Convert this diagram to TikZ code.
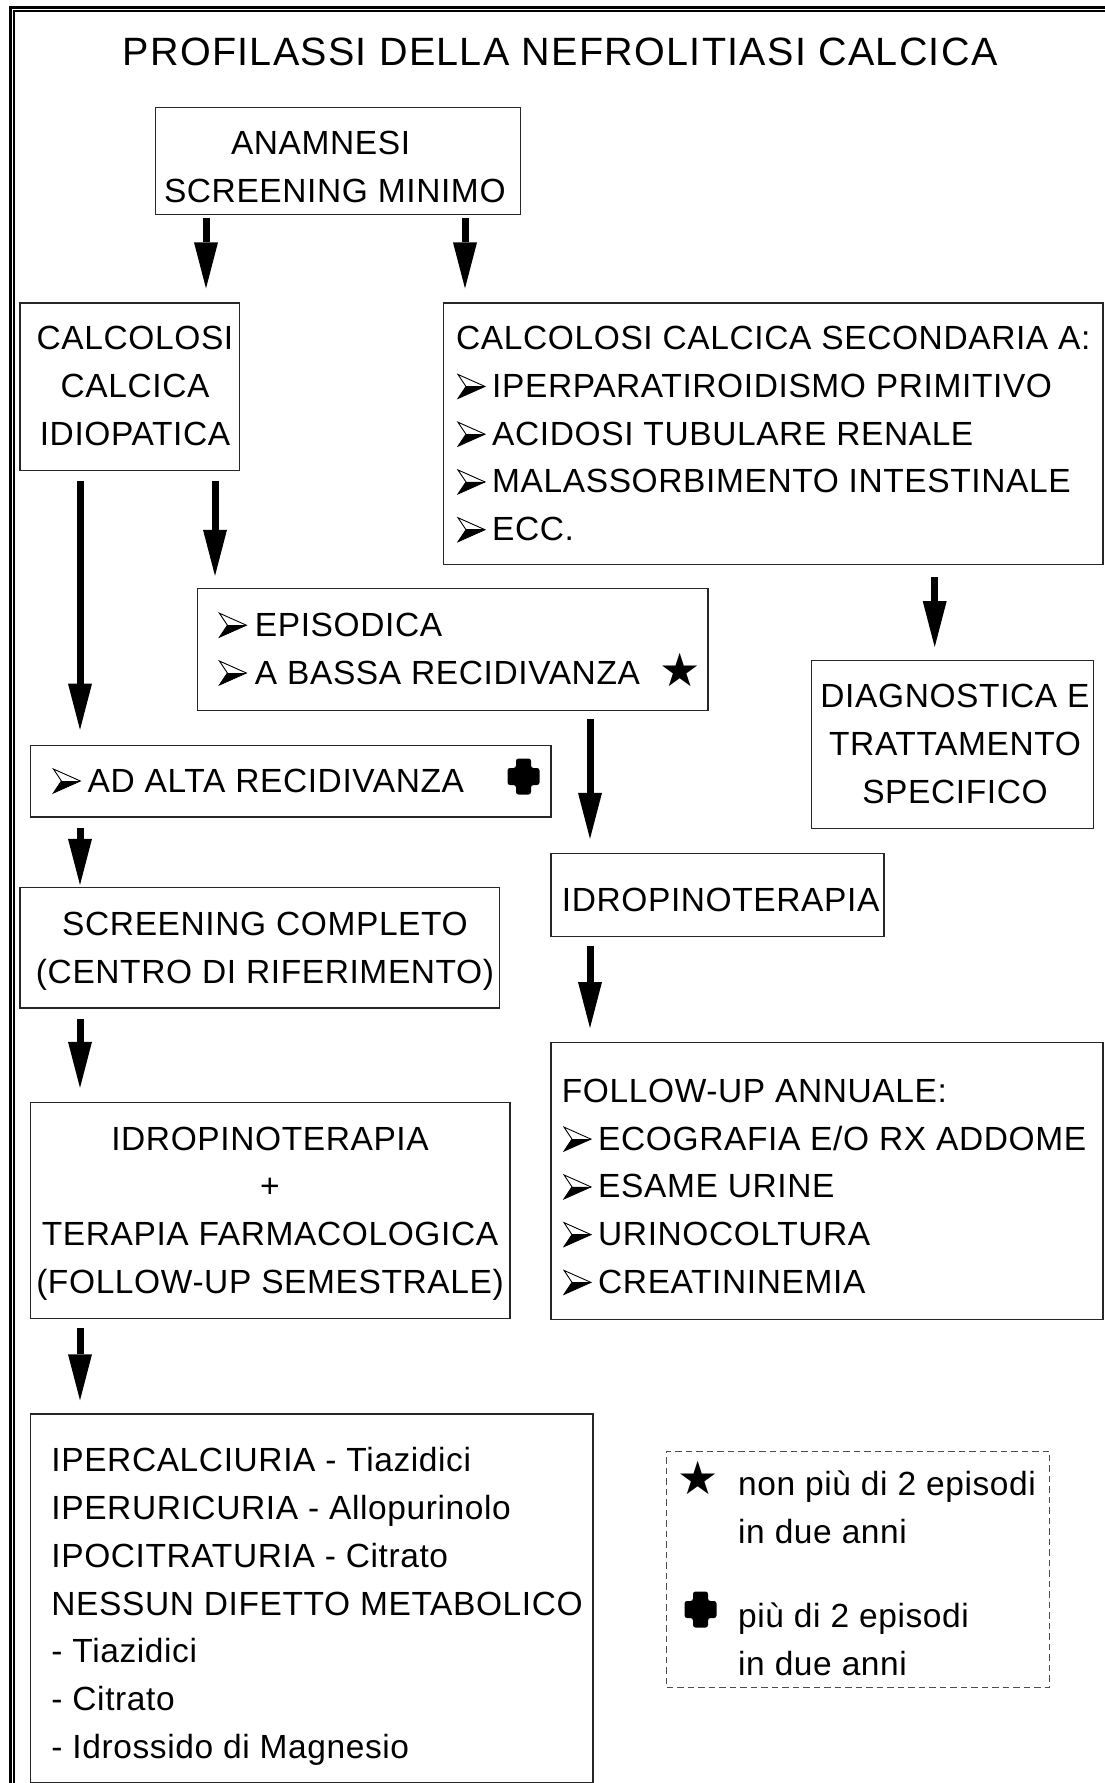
\documentclass[tikz,border=0pt]{standalone}
\usepackage{fontspec}
\setmainfont{Liberation Sans}[LetterSpace=1.8]
\newfontfamily\symfont{DejaVu Sans}
\usetikzlibrary{arrows.meta,calc}

\newcommand\bodysize{\fontsize{33.5}{47.75}\selectfont}
\newcommand\titlesize{\fontsize{39.5}{48}\selectfont\addfontfeature{LetterSpace=3.3}}
\newcommand\starsym{{\symfont\fontsize{46}{46}\selectfont ★}}

% framed box given by its two corners
\newcommand\boxnode[5]{%
  \node[box, anchor=north west, minimum width={#4-#2}, minimum height={#5-#3}] (#1) at (#2,#3) {};}

\begin{document}
\begin{tikzpicture}[x=1pt, y=-1pt,
  box/.style={draw=black!85, line width=1.3pt, inner sep=0pt},
  txt/.style={inner sep=0pt, font=\bodysize},
  arr/.style={line width=7pt, -{Triangle[length=46pt,width=24pt,line width=0pt]}},
  legbox/.style={draw=black!70, line width=1pt, dash pattern=on 6.5pt off 4pt, inner sep=0pt},
  % 3-D arrowhead bullet, origin at its left end on the baseline
  arrowbullet/.pic={
    \fill[black] (0,1) -- (8,-11) -- (27,-11) -- cycle;
    \draw[line width=0.9pt, line join=miter] (0,-23) -- (27,-11) -- (0,1) -- (8,-11) -- cycle;
    \draw[line width=0.6pt] (8,-11) -- (27,-11);
  },
  % heavy rounded cross, origin at its centre
  heavycross/.pic={
    \fill[black, rounded corners=2.5pt]
      (-7.5,-18) -- (7.5,-18) -- (7.5,-8.5) -- (16,-8.5) -- (16,8.5) -- (7.5,8.5)
      -- (7.5,18) -- (-7.5,18) -- (-7.5,8.5) -- (-16,8.5) -- (-16,-8.5) -- (-7.5,-8.5) -- cycle;
  }]

\useasboundingbox (0,0) rectangle (1104,1783);
\fill[white] (0,0) rectangle (1104,1783);

% double page frame (open at right and bottom)
\draw[line width=2.6pt] (10.3,1795) -- (10.3,7.2) -- (1115,7.2);
\draw[line width=1.8pt] (14.3,1795) -- (14.3,11.2) -- (1115,11.2);

% title
\node[anchor=base, inner sep=0pt, font=\titlesize] (title) at (560,65) {PROFILASSI DELLA NEFROLITIASI CALCICA};

% boxes
\boxnode{anam}{155}{107}{520}{214}
\boxnode{idio}{19.3}{302.4}{238.8}{469.6}
\boxnode{sec}{443}{302.4}{1102.3}{564}
\boxnode{epis}{196.7}{587.8}{707.2}{709.5}
\boxnode{alta}{29.6}{744.7}{550.3}{816.4}
\boxnode{diag}{810.7}{660}{1092.5}{828}
\boxnode{idro}{550.3}{852.8}{883.4}{935.8}
\boxnode{screen}{19.3}{886.9}{499.1}{1007.4}
\boxnode{follow}{550.3}{1041.5}{1102.3}{1318.9}
\boxnode{terapia}{29.6}{1101.8}{509.4}{1317.8}
\boxnode{bottom}{29.6}{1413.3}{592.4}{1782}
\node[legbox, anchor=north west, minimum width=383, minimum height=236] (legend) at (666,1450.5) {};

% texts
\node[txt, anchor=base] (anam-1) at (320.6,154) {ANAMNESI};
\node[txt, anchor=base] (anam-2) at (334.8,202) {SCREENING MINIMO};

\node[txt, anchor=base] (idio-1) at (135,349.7) {CALCOLOSI};
\node[txt, anchor=base] (idio-2) at (135,397.45) {CALCICA};
\node[txt, anchor=base] (idio-3) at (135,445.2) {IDIOPATICA};

\node[txt, anchor=base west] (sec-1) at (456,349.7) {CALCOLOSI CALCICA SECONDARIA A:};
\node[txt, anchor=base west] (sec-2) at (492,397.45) {IPERPARATIROIDISMO PRIMITIVO};
\node[txt, anchor=base west] (sec-3) at (492,445.2) {ACIDOSI TUBULARE RENALE};
\node[txt, anchor=base west] (sec-4) at (492,492.95) {MALASSORBIMENTO INTESTINALE};
\node[txt, anchor=base west] (sec-5) at (492,540.7) {ECC.};
\foreach \yy in {397.45,445.2,492.95,540.7} \pic at (458,\yy) {arrowbullet};

\node[txt, anchor=base west] (epis-1) at (254.7,636.2) {EPISODICA};
\node[txt, anchor=base west] (epis-2) at (254.7,684) {A BASSA RECIDIVANZA};
\foreach \yy in {636.2,684} \pic at (219.4,\yy) {arrowbullet};
\node[inner sep=0pt] (epis-star) at (680,670) {\starsym};

\node[txt, anchor=base west] (alta-1) at (87.5,792) {AD ALTA RECIDIVANZA};
\pic at (53.4,792) {arrowbullet};
\pic at (523.5,776.5) {heavycross};

\node[txt, anchor=base] (diag-1) at (955,707.8) {DIAGNOSTICA E};
\node[txt, anchor=base] (diag-2) at (955,755.6) {TRATTAMENTO};
\node[txt, anchor=base] (diag-3) at (955,803.3) {SPECIFICO};

\node[txt, anchor=base west] (idro-1) at (561.7,911.4) {IDROPINOTERAPIA};

\node[txt, anchor=base] (screen-1) at (265,935.2) {SCREENING COMPLETO};
\node[txt, anchor=base] (screen-2) at (265,983) {(CENTRO DI RIFERIMENTO)};

\node[txt, anchor=base west] (follow-1) at (561.7,1102.4) {FOLLOW-UP ANNUALE:};
\node[txt, anchor=base west] (follow-2) at (598,1150.1) {ECOGRAFIA E/O RX ADDOME};
\node[txt, anchor=base west] (follow-3) at (598,1197.9) {ESAME URINE};
\node[txt, anchor=base west] (follow-4) at (598,1245.6) {URINOCOLTURA};
\node[txt, anchor=base west] (follow-5) at (598,1293.4) {CREATININEMIA};
\foreach \yy in {1150.1,1197.9,1245.6,1293.4} \pic at (564,\yy) {arrowbullet};

\node[txt, anchor=base] (terapia-1) at (270,1150.1) {IDROPINOTERAPIA};
\node[txt, anchor=base] (terapia-2) at (270,1197.9) {+};
\node[txt, anchor=base] (terapia-3) at (270,1245.6) {TERAPIA FARMACOLOGICA};
\node[txt, anchor=base] (terapia-4) at (270,1293.4) {(FOLLOW-UP SEMESTRALE)};

\node[txt, anchor=base west] (bottom-1) at (51.2,1471.9) {IPERCALCIURIA - Tiazidici};
\node[txt, anchor=base west] (bottom-2) at (51.2,1519.7) {IPERURICURIA - Allopurinolo};
\node[txt, anchor=base west] (bottom-3) at (51.2,1567.4) {IPOCITRATURIA - Citrato};
\node[txt, anchor=base west] (bottom-4) at (51.2,1615.2) {NESSUN DIFETTO METABOLICO};
\node[txt, anchor=base west] (bottom-5) at (51.2,1662.9) {- Tiazidici};
\node[txt, anchor=base west] (bottom-6) at (51.2,1710.7) {- Citrato};
\node[txt, anchor=base west] (bottom-7) at (51.2,1758.4) {- Idrossido di Magnesio};

% legend
\node[inner sep=0pt] (leg-star) at (698,1478) {\starsym};
\node[txt, anchor=base west] (leg-1) at (738,1495) {non più di 2 episodi};
\node[txt, anchor=base west] (leg-2) at (738,1543.3) {in due anni};
\pic at (700.5,1609.5) {heavycross};
\node[txt, anchor=base west] (leg-3) at (738,1627) {più di 2 episodi};
\node[txt, anchor=base west] (leg-4) at (738,1675) {in due anni};

% arrow columns
\coordinate (c1) at (80,0);
\coordinate (c2) at (206,0);
\coordinate (c3) at (215,0);
\coordinate (c4) at (465,0);
\coordinate (c5) at (590,0);
\coordinate (c6) at (934.7,0);

% arrows
\draw[arr, shorten <=3pt, shorten >=14pt] (anam.south -| c2) -- (idio.north -| c2);
\draw[arr, shorten <=3pt, shorten >=14pt] (anam.south -| c4) -- (sec.north -| c4);
\draw[arr, shorten <=10pt, shorten >=15pt] (idio.south -| c1) -- (alta.north -| c1);
\draw[arr, shorten <=10pt, shorten >=12pt] (idio.south -| c3) -- (epis.north -| c3);
\draw[arr, shorten <=12pt, shorten >=13pt] (sec.south -| c6) -- (diag.north -| c6);
\draw[arr, shorten <=8.5pt, shorten >=14pt] (epis.south -| c5) -- (idro.north -| c5);
\draw[arr, shorten <=10.6pt, shorten >=2pt] (alta.south -| c1) -- (screen.north -| c1);
\draw[arr, shorten <=10pt, shorten >=14pt] (screen.south -| c1) -- (terapia.north -| c1);
\draw[arr, shorten <=9pt, shorten >=13.5pt] (idro.south -| c5) -- (follow.north -| c5);
\draw[arr, shorten <=9pt, shorten >=13pt] (terapia.south -| c1) -- (bottom.north -| c1);
\end{tikzpicture}
\end{document}
